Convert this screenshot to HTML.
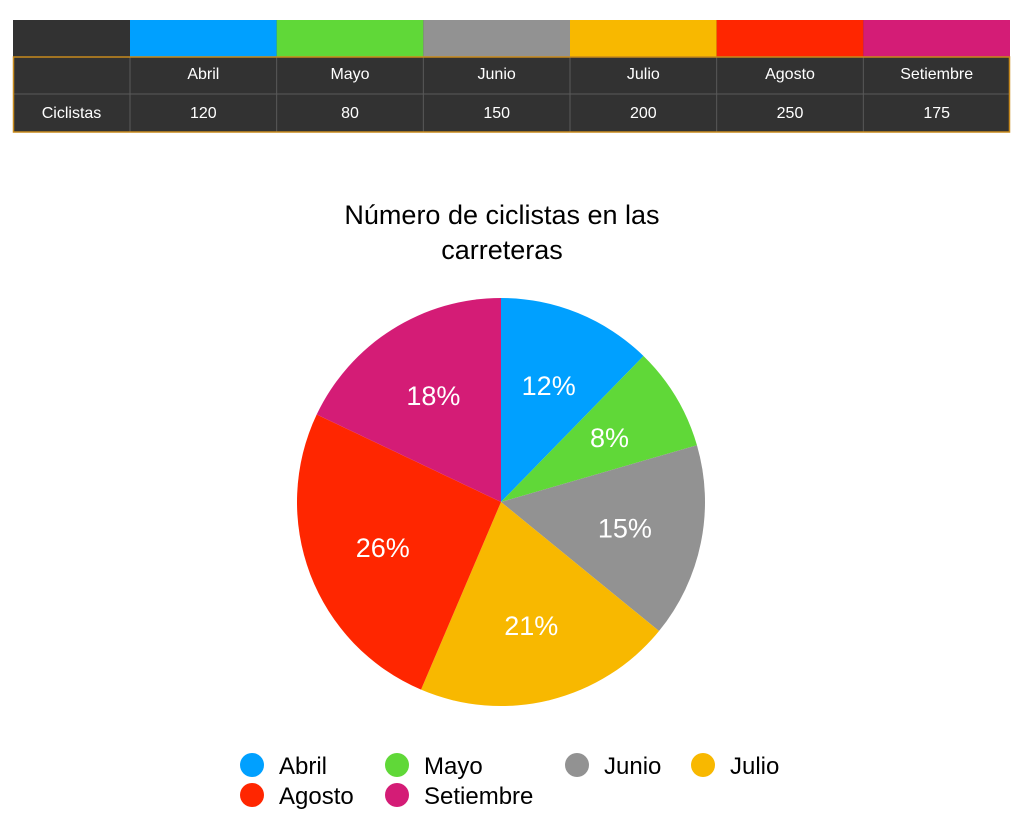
<!DOCTYPE html>
<html><head><meta charset="utf-8">
<style>
body{margin:0;width:1024px;height:838px;background:#fff;font-family:"Liberation Sans",sans-serif;overflow:hidden;position:relative}
svg{position:absolute;left:0;top:0}
</style></head>
<body>
<svg id="s" width="1024" height="838"></svg>
<script>
const months=["Abril","Mayo","Junio","Julio","Agosto","Setiembre"];
const cyclists=[120,80,150,200,250,175];
const colors=["#00a0ff","#60d838","#929292","#f8b800","#ff2600","#d41c76"];
const NS="http://www.w3.org/2000/svg";
const svg=document.getElementById('s');
function mk(tag,attrs,parent){const e=document.createElementNS(NS,tag);for(const k in attrs)e.setAttribute(k,attrs[k]);(parent||svg).appendChild(e);return e;}
// table
const tx0=13,tx1=1010,firstW=117,ry=[20,57,94,132];
const colW=(tx1-tx0-firstW)/months.length;
const tbl=mk('g',{});


mk('rect',{x:tx0,y:ry[0],width:tx1-tx0,height:ry[3]-ry[0],fill:'#323232'},tbl);
months.forEach((m,i)=>{
  const x=tx0+firstW+i*colW;
  const sw=mk('rect',{x:x,y:ry[0],width:colW,height:ry[1]-ry[0],fill:colors[i]},tbl);
  
  
  mk('line',{x1:x,y1:ry[1],x2:x,y2:ry[3],stroke:'#5a5a5a','stroke-width':1},tbl);
  const h=mk('text',{x:x+colW/2,y:79,'text-anchor':'middle','font-size':16,fill:'#fff'},tbl);
  h.textContent=m;
  
  
  const v=mk('text',{x:x+colW/2,y:118,'text-anchor':'middle','font-size':16,fill:'#fff'},tbl);
  v.textContent=cyclists[i];
  
  
});
mk('line',{x1:tx0,y1:ry[2],x2:tx1,y2:ry[2],stroke:'#5a5a5a'},tbl);
mk('rect',{x:tx0+0.5,y:ry[1],width:tx1-tx0-1,height:ry[3]-ry[1],fill:'none',stroke:'#c88a1c','stroke-width':1.5},tbl);
const rl=mk('text',{x:tx0+firstW/2,y:118,'text-anchor':'middle','font-size':16,fill:'#fff'},tbl);
rl.textContent='Ciclistas';


// title
const t1=mk('text',{x:502,y:224,'text-anchor':'middle','font-size':27,fill:'#000'});
t1.textContent='Número de ciclistas en las';


const t2=mk('text',{x:502,y:259,'text-anchor':'middle','font-size':27,fill:'#000'});
t2.textContent='carreteras';


// pie
const cx=501,cy=502,R=204;
const total=cyclists.reduce((a,b)=>a+b,0);
let a0=0;
cyclists.forEach((v,i)=>{
  const a1=a0+v/total*2*Math.PI;
  const p=(a)=>[cx+R*Math.sin(a),cy-R*Math.cos(a)];
  const [x0,y0]=p(a0),[x1,y1]=p(a1);
  const large=(a1-a0)>Math.PI?1:0;
  const sl=mk('path',{d:`M${cx},${cy}L${x0},${y0}A${R},${R} 0 ${large} 1 ${x1},${y1}Z`,fill:colors[i]});
  
  
  const am=(a0+a1)/2,lr=R*0.62;
  const lb=mk('text',{x:cx+lr*Math.sin(am),y:cy-lr*Math.cos(am)+10,'text-anchor':'middle','font-size':27,fill:'#fff'});
  lb.textContent=Math.round(v/total*100)+'%';
  
  
  a0=a1;
});
// legend
const lx=[252,397,577,703],lyy=[765,795];
months.forEach((m,i)=>{
  const x=lx[i%4],y=lyy[Math.floor(i/4)];
  const g=mk('g',{});
  
  
  mk('circle',{cx:x,cy:y,r:12,fill:colors[i]},g);
  const t=mk('text',{x:x+27,y:y+9,'font-size':24,fill:'#000'},g);
  t.textContent=m;
});
</script>
</body></html>
